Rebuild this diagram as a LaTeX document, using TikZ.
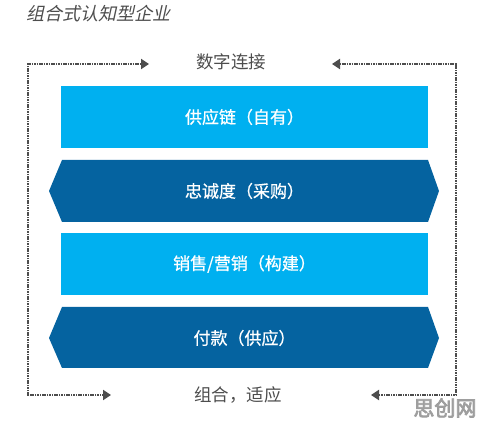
\documentclass[tikz,border=0pt]{standalone}
\usepackage{fontspec}
\usepackage{xcolor}
\usepackage{tikz}
\usetikzlibrary{arrows.meta}
\newfontfamily\cjk{Noto Sans CJK SC}
\newfontfamily\cjkmid[FakeBold=0.7]{Noto Sans CJK SC}
\newfontfamily\cjkslant[FakeSlant=0.22]{Noto Sans CJK SC}
\newfontfamily\cjkbold[FakeBold=3.5]{Noto Sans CJK SC}
\definecolor{barlight}{HTML}{00B0F0}
\definecolor{bardark}{HTML}{0563A0}
\definecolor{framegray}{HTML}{4D4D4D}

\begin{document}
\begin{tikzpicture}[x = 1pt, y = -1pt,
  lightbar/.style = {fill = barlight},
  darkbar/.style = {fill = bardark},
  bartext/.style = {text = white, font = \cjkmid\fontsize{17}{20}\selectfont},
  graytext/.style = {text = framegray, font = \cjk\fontsize{17.5}{20}\selectfont},
  frame/.style = {framegray, line width = 2pt, dash pattern = on 1.6pt off 0.8pt,
    {Triangle[length = 8pt, width = 10pt]}-{Triangle[length = 8pt, width = 10pt]}}]
 \useasboundingbox (0, 0) rectangle (483, 427);
 % title
 \node (title) [anchor = west, text = framegray, font = \cjkslant\fontsize{18}{20}\selectfont] at (23, 14) {组合式认知型企业};
 % layers
 \fill [lightbar] (61, 86) rectangle (428, 148);
 \node (chain) [bartext] at (244.5, 117) {供应链（自有）};
 \fill [darkbar] (62, 160) -- (428, 160) -- (439, 191) -- (428, 222) -- (62, 222) -- (49, 191) -- cycle;
 \node (loyal) [bartext] at (244.5, 191) {忠诚度（采购）};
 \fill [lightbar] (61, 233) rectangle (428, 295);
 \node (sales) [bartext] at (244.5, 264) {销售/营销（构建）};
 \fill [darkbar] (62, 307) -- (428, 307) -- (439, 338) -- (428, 368) -- (62, 368) -- (49, 338) -- cycle;
 \node (pay) [bartext] at (244.5, 338) {付款（供应）};
 % frame labels
 \node (digital) [graytext] at (231, 62) {数字连接};
 \node (adapt) [graytext] at (238, 395) {组合，适应};
 \coordinate (tl) at (28, 64);
 \coordinate (bl) at (28, 395);
 \coordinate (tr) at (456, 64);
 \coordinate (br) at (456, 395);
 \coordinate (tlend) at (149, 64);
 \coordinate (blend) at (111, 395);
 \coordinate (trend) at (332, 64);
 \coordinate (brend) at (371, 395);
 \draw [frame] (blend) -- (bl) -- (tl) -- (tlend);
 \draw [frame] (trend) -- (tr) -- (br) -- (brend);
 % watermark
 \node (mark) [anchor = east, text = black!38, font = \cjkbold\fontsize{21}{24}\selectfont] at (480, 408) {思创网};
\end{tikzpicture}
\end{document}
